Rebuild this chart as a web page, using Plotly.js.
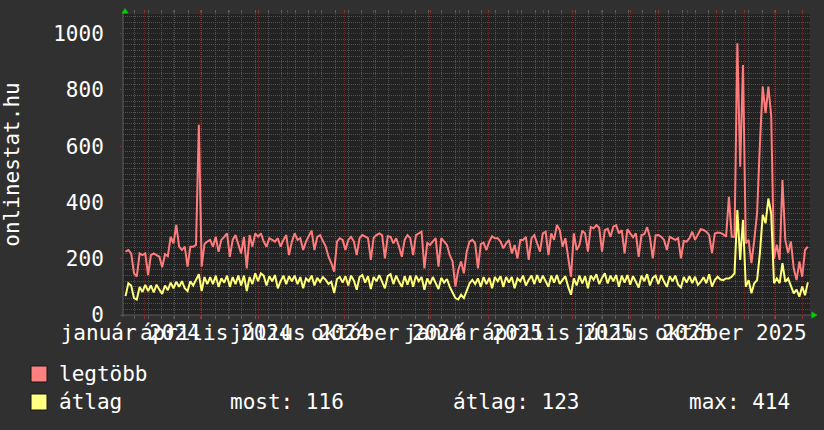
<!DOCTYPE html>
<html>
<head>
<meta charset="utf-8">
<script src="https://cdn.plot.ly/plotly-3.0.1.min.js"></script>
<style>
html,body{margin:0;padding:0;background:#303030;}
#chart{width:824px;height:430px;}
</style>
</head>
<body>
<div id="chart"></div>
<script>
// ---- data (one sample every 3 days) ----
const startDate = '2023-12-12';
const stepDays = 3;

const legtobb = [
225,231,219,148,137,219,213,219,142,213,219,213,207,170,216,209,278,255,320,243,
231,243,172,243,243,249,676,172,252,261,267,243,278,225,267,278,290,207,267,284,
255,219,278,166,284,243,290,278,290,261,243,273,267,261,273,243,267,284,213,261,
290,267,273,231,261,278,300,231,278,284,261,243,207,184,154,261,273,267,231,267,
278,261,213,273,284,278,273,196,275,284,290,284,201,280,278,255,273,243,207,267,
284,273,213,284,290,296,166,255,249,261,273,172,273,261,249,213,190,101,160,190,
148,225,261,267,255,166,252,257,231,261,280,273,273,261,237,255,267,219,249,201,
267,267,278,196,273,284,257,225,290,296,213,290,267,320,302,243,273,207,136,290,
231,249,300,290,225,313,308,319,310,225,302,307,278,314,319,290,302,219,305,290,
276,290,207,284,287,312,276,201,283,284,278,267,231,278,273,267,273,201,263,261,
273,296,267,284,305,302,296,284,220,290,293,292,287,278,420,278,278,966,527,889,
255,267,184,267,362,610,812,718,812,710,200,250,196,480,267,220,261,165,124,190,
136,231,243
];

const atlag = [
67,113,105,60,55,100,82,107,85,105,80,108,90,75,105,88,115,95,118,100,
120,95,85,120,105,128,145,85,135,110,135,110,140,100,130,115,140,100,135,110,
140,105,140,85,135,110,148,120,148,140,105,138,120,142,95,120,140,110,138,120,
140,110,135,95,130,120,140,105,132,118,135,125,110,118,78,128,135,115,138,105,
140,122,90,135,142,115,138,92,135,120,142,118,95,138,145,110,140,118,100,138,
108,140,100,140,120,135,90,130,110,135,115,92,132,115,128,100,80,60,55,72,
60,85,112,125,110,130,100,135,110,132,95,135,120,138,100,135,115,135,95,130,
120,140,105,125,140,110,142,115,140,120,100,140,115,142,110,125,138,100,72,130,
105,140,112,138,95,140,125,145,110,132,148,112,140,120,142,100,140,115,142,108,
138,118,98,140,120,145,105,132,140,110,142,118,100,138,120,140,108,98,135,115,
138,113,136,107,118,134,113,145,101,124,136,126,124,130,130,136,148,373,196,338,
101,124,77,113,124,220,356,326,414,360,113,130,113,184,118,130,101,77,90,65,
101,70,116
];

const seriesNames = ['legtöbb', 'átlag'];
const seriesColors = ['#ff7c7c', '#ffff78'];
const swatchColors = ['#ff8080', '#ffff80'];

const quarterLabels = ['január 2024','április 2024','július 2024','október 2024',
                       'január 2025','április 2025','július 2025','október 2025'];
const quarterLabelDates = ['2023-12-17','2024-03-17','2024-06-14','2024-09-15',
                           '2024-12-16','2025-03-16','2025-06-15','2025-09-16'];

const statNames = ['most', 'átlag', 'max'];
const statValues = [116, 123, 414];
const yTitle = 'onlinestat.hu';

const xRange = ['2023-12-09 07:12', '2025-12-09 07:12'];
const yRange = [0, 1070];

// ---- build ----
const t0 = Date.parse(startDate + 'T00:00:00Z');
const dates = legtobb.map((_, i) =>
  new Date(t0 + i * stepDays * 86400000).toISOString().slice(0, 10));

const W = 824, H = 430;
const M = {l: 123, r: 14, t: 14, b: 115};
const PW = W - M.l - M.r, PH = H - M.t - M.b;
const px = X => (X - M.l) / PW;
const py = Y => (H - M.b - Y) / PH;

const FONT = 'DejaVu Sans Mono, monospace';
const GRID = '#525252';
const MGRID = '#582a2a';
const DOT = '1px,1px';

const traces = [
  {x: dates, y: legtobb, type: 'scatter', mode: 'lines', name: seriesNames[0],
   line: {color: seriesColors[0], width: 2}, xaxis: 'x', yaxis: 'y', hoverinfo: 'skip'},
  {x: dates, y: atlag, type: 'scatter', mode: 'lines', name: seriesNames[1],
   line: {color: seriesColors[1], width: 2}, xaxis: 'x2', yaxis: 'y', hoverinfo: 'skip'}
];

const shapes = [
  // axis lines
  {type: 'line', xref: 'paper', yref: 'paper', x0: px(121), x1: px(812), y0: 0, y1: 0,
   line: {color: '#5c5c5c', width: 1}, layer: 'below'},
  {type: 'line', xref: 'paper', yref: 'paper', x0: 0, x1: 0, y0: py(317), y1: py(12),
   line: {color: '#5c5c5c', width: 1}, layer: 'below'},
  // arrows
  {type: 'path', xref: 'paper', yref: 'paper',
   path: `M ${px(125)} ${py(8)} L ${px(121.5)} ${py(13.5)} L ${px(128.5)} ${py(13.5)} Z`,
   fillcolor: '#00d000', line: {width: 0}},
  {type: 'path', xref: 'paper', yref: 'paper',
   path: `M ${px(817.5)} ${py(315)} L ${px(811.5)} ${py(311.5)} L ${px(811.5)} ${py(318.5)} Z`,
   fillcolor: '#00d000', line: {width: 0}},
  // legend swatches
  {type: 'rect', xref: 'paper', yref: 'paper', x0: px(31), x1: px(47), y0: py(382), y1: py(366),
   fillcolor: swatchColors[0], line: {color: '#151515', width: 1}},
  {type: 'rect', xref: 'paper', yref: 'paper', x0: px(31), x1: px(47), y0: py(410), y1: py(394),
   fillcolor: swatchColors[1], line: {color: '#151515', width: 1}}
];

const tf = {family: FONT, size: 21, color: '#ffffff'};
const annotations = [
  {text: seriesNames[0], x: px(57), y: py(374)},
  {text: seriesNames[1], x: px(57), y: py(402)},
  {text: `${statNames[0]}: ${statValues[0]}`, x: px(228), y: py(402)},
  {text: `${statNames[1]}: ${statValues[1]}`, x: px(451), y: py(402)},
  {text: `${statNames[2]}: ${statValues[2]}`, x: px(687), y: py(402)}
].map(a => Object.assign({xref: 'paper', yref: 'paper', xanchor: 'left', yanchor: 'middle',
  showarrow: false, font: tf}, a));

const layout = {
  width: W, height: H, margin: M, autosize: false,
  paper_bgcolor: '#303030', plot_bgcolor: '#222222',
  showlegend: false,
  font: tf,
  xaxis: {
    type: 'date', range: xRange, fixedrange: true,
    tickmode: 'linear', tick0: '2024-01-01', dtick: 'M1',
    showticklabels: false, showgrid: true, gridcolor: MGRID, griddash: DOT, gridwidth: 1,
    ticks: 'outside', ticklen: 3, tickcolor: '#803636', tickwidth: 1, mirror: 'ticks',
    showline: false, zeroline: false,
    minor: {tick0: '2023-12-22', dtick: 14.2 * 86400000, showgrid: true, gridcolor: GRID,
            griddash: DOT, gridwidth: 1, ticks: 'outside', ticklen: 3, tickcolor: '#5e5e5e'}
  },
  xaxis2: {
    type: 'date', range: xRange, overlaying: 'x', anchor: 'y', side: 'bottom', fixedrange: true,
    tickmode: 'array', tickvals: quarterLabelDates, ticktext: quarterLabels,
    tickangle: 0, tickfont: tf, showgrid: false, ticks: '', showline: false, zeroline: false,
    ticklabelstandoff: 3
  },
  yaxis: {
    range: yRange, fixedrange: true,
    tickmode: 'linear', tick0: 0, dtick: 200, tickfont: tf,
    showgrid: true, gridcolor: '#6a3030', griddash: DOT, gridwidth: 1,
    ticks: 'outside', ticklen: 2, tickcolor: '#803636', ticklabelstandoff: 12,
    showline: false, zeroline: false,
    minor: {dtick: 20, showgrid: true, gridcolor: GRID, griddash: DOT, gridwidth: 1},
    title: {text: yTitle, font: tf, standoff: 34}
  },
  shapes: shapes,
  annotations: annotations
};

Plotly.newPlot('chart', traces, layout, {displayModeBar: false, staticPlot: true});
</script>
</body>
</html>
